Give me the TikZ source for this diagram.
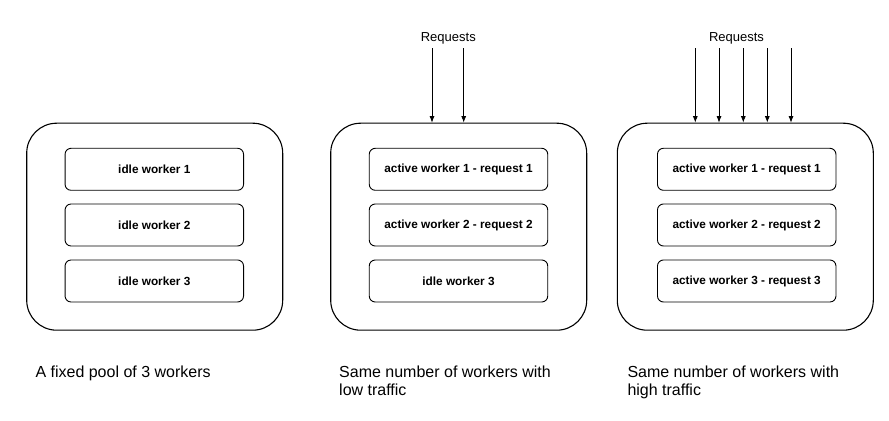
\documentclass[tikz,border=0pt]{standalone}
\usepackage{fontspec}
\setmainfont{Liberation Sans}
\usetikzlibrary{arrows.meta}

\begin{document}
\begin{tikzpicture}[>={Latex[length=6.5bp,width=5bp]},line join=bevel,
  pool/.style={draw,rounded corners=30bp,minimum width=256bp,minimum height=207bp,line width=1.1bp},
  worker/.style={draw,rounded corners=6bp,minimum width=178.5bp,minimum height=42bp,line width=0.9bp,
    font=\fontsize{11.8bp}{14bp}\selectfont\bfseries},
  caption/.style={anchor=base west,align=left,inner sep=0pt,font=\fontsize{16bp}{18.7bp}\selectfont},
  reqlabel/.style={anchor=base,inner sep=0pt,font=\fontsize{13bp}{15bp}\selectfont},
  req/.style={->,line width=0.8bp}]
  \useasboundingbox (0bp,0bp) rectangle (889bp,421bp);
%%
  % Node: Pool1
\begin{scope}
  \node [pool] (pool1) at (154.7bp,194.3bp) {};
  \node [worker] (idle1) at (154.3bp,251.7bp) {idle worker 1};
  \node [worker] (idle2) at (154.3bp,196bp) {idle worker 2};
  \node [worker] (idle3) at (154.3bp,140bp) {idle worker 3};
  \node [caption] (cap1) at (35.3bp,43.7bp) {A fixed pool of 3 workers};
\end{scope}
  % Node: Pool2
\begin{scope}
  \node [pool] (pool2) at (458.7bp,194.3bp) {};
  \node [worker] (low1) at (458.5bp,251.7bp) {active worker 1 - request 1};
  \node [worker] (low2) at (458.5bp,196bp) {active worker 2 - request 2};
  \node [worker] (low3) at (458.5bp,140bp) {idle worker 3};
  \node [caption] (cap2) at (339bp,25.3bp) {Same number of workers with\\low traffic};
  \node [reqlabel] (req2) at (448.3bp,379bp) {Requests};
\end{scope}
  % Node: Pool3
\begin{scope}
  \node [pool] (pool3) at (745.3bp,194.3bp) {};
  \node [worker] (high1) at (746.7bp,251.7bp) {active worker 1 - request 1};
  \node [worker] (high2) at (746.7bp,196bp) {active worker 2 - request 2};
  \node [worker] (high3) at (746.7bp,140bp) {active worker 3 - request 3};
  \node [caption] (cap3) at (627.3bp,25.3bp) {Same number of workers with\\high traffic};
  \node [reqlabel] (req3) at (736.5bp,379bp) {Requests};
\end{scope}
  % Edge: Requests -> Pool2
  \coordinate (in2a) at (432bp,372.7bp);
  \coordinate (in2b) at (463.7bp,372.7bp);
  \draw [req] (in2a) -- (in2a |- pool2.north);
  \draw [req] (in2b) -- (in2b |- pool2.north);
  % Edge: Requests -> Pool3
  \coordinate (in3a) at (695.3bp,372.7bp);
  \coordinate (in3b) at (719bp,372.7bp);
  \coordinate (in3c) at (743.3bp,372.7bp);
  \coordinate (in3d) at (767.3bp,372.7bp);
  \coordinate (in3e) at (791bp,372.7bp);
  \draw [req] (in3a) -- (in3a |- pool3.north);
  \draw [req] (in3b) -- (in3b |- pool3.north);
  \draw [req] (in3c) -- (in3c |- pool3.north);
  \draw [req] (in3d) -- (in3d |- pool3.north);
  \draw [req] (in3e) -- (in3e |- pool3.north);
%
\end{tikzpicture}
\end{document}
